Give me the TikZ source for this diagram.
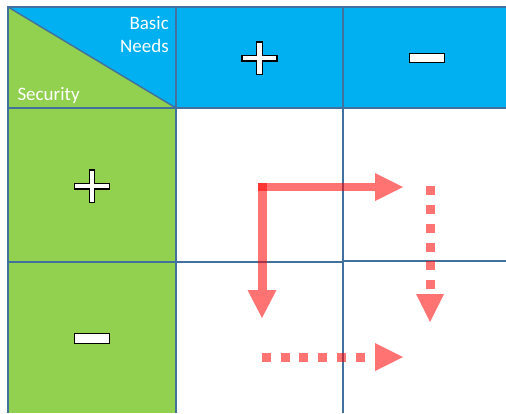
\documentclass[tikz,border=0pt]{standalone}
\usepackage{fontspec}
\setmainfont{Carlito}
\definecolor{hdrblue}{RGB}{0,176,240}
\definecolor{secgreen}{RGB}{146,208,80}
\definecolor{gridline}{RGB}{65,113,156}
\tikzset{
  gridl/.style={draw=gridline, line width=1.4pt},
  sym/.style={draw=black, line width=1.3pt, fill=white, line join=miter},
  arrfill/.style={fill=red, fill opacity=0.55, draw=none},
  arrdash/.style={draw=red, draw opacity=0.55, line width=9pt, dash pattern=on 9pt off 9.86pt, line cap=butt},
  lbl/.style={text=white, font=\fontsize{19}{23}\selectfont, inner sep=0pt},
  plussign/.pic={\path[sym] (-2.7,-16.3) -- (2.7,-16.3) -- (2.7,-2.9) -- (17.6,-2.9) -- (17.6,2.9) -- (2.7,2.9) -- (2.7,16.3) -- (-2.7,16.3) -- (-2.7,2.9) -- (-17.6,2.9) -- (-17.6,-2.9) -- (-2.7,-2.9) -- cycle;},
  minussign/.pic={\path[sym] (-17.6,-4.8) rectangle (17.6,4.8);}
}
\begin{document}
\begin{tikzpicture}[x=1pt,y=-1pt]
\useasboundingbox (0,0) rectangle (506,413);
% fills
\fill[hdrblue] (8,7) rectangle (506,108);
\fill[secgreen] (8,108) rectangle (176,413);
\fill[secgreen] (8,7) -- (176,108) -- (8,108) -- cycle;
% grid
\draw[gridl] (8,413) -- (8,7) -- (506,7);
\draw[gridl] (8,7) -- (176,108);
\draw[gridl] (176,7) -- (176,413);
\draw[gridl] (343,7) -- (343,413);
\draw[gridl] (8,108) -- (506,108);
\draw[gridl] (8,262) -- (343,262);
\draw[gridl] (343,261) -- (506,261);
% labels
\node[lbl, anchor=base east] (basic) at (169,29.5) {Basic};
\node[lbl, anchor=base east] (needs) at (169,52.8) {Needs};
\node[lbl, anchor=base west] (security) at (17.3,100) {Security};
% symbols
\pic at (259.5,58.2) {plussign};
\pic at (427,58) {minussign};
\pic at (92,186.2) {plussign};
\pic at (92,338.5) {minussign};
% arrow coordinates
\coordinate (corner) at (262,187);
\coordinate (rightTip) at (403,187);
\coordinate (downTip) at (262,318);
\coordinate (dvStart) at (430,186);
\coordinate (dvTip) at (430,322);
\coordinate (dhStart) at (261.7,357);
\coordinate (dhTip) at (403,357);
% solid L arrow
\path[arrfill] (257.5,183) rectangle (266.5,290);
\path[arrfill] (247.5,290) -- (276.5,290) -- (downTip) -- cycle;
\path[arrfill] (257.5,183) rectangle (375,191);
\path[arrfill] (375,173) -- (375,201) -- (rightTip) -- cycle;
% dashed vertical arrow
\draw[arrdash] (dvStart) -- (430,289.3);
\path[arrfill] (416,294) -- (444,294) -- (dvTip) -- cycle;
% dashed horizontal arrow
\draw[arrdash] (dhStart) -- (365,357);
\path[arrfill] (375,343) -- (375,371) -- (dhTip) -- cycle;
\end{tikzpicture}
\end{document}
